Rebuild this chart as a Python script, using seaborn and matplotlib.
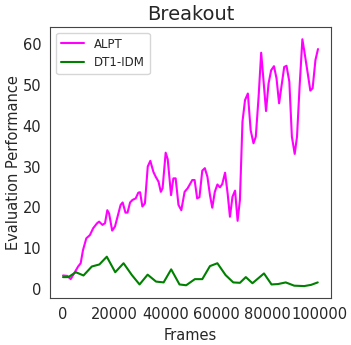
import numpy as np
import pandas as pd
import matplotlib
matplotlib.use("Agg")
import matplotlib.pyplot as plt
import seaborn as sns

alpt_frames = [0, 1700, 3000, 4600, 5900, 6900, 7800, 9100, 10500, 11800, 13300, 14100,
               15400, 16400, 17300, 18000, 19200, 20300, 21300, 22500, 23300, 24400, 25200,
               26200, 27100, 28400, 29400, 30100, 31000, 32000, 33100, 34100, 35300, 36200,
               37300, 38200, 38900, 40100, 40900, 42200, 43100, 44000, 45100, 46200, 47500,
               48700, 50500, 51400, 52400, 53300, 54400, 55400, 56400, 57400, 58300, 59300,
               60300, 61300, 62200, 63300, 64300, 65200, 66200, 67200, 68200, 69100, 70100,
               71100, 72200, 73300, 74400, 75300, 76400, 77400, 78300, 79300, 80300, 81300,
               82400, 83400, 84400, 85500, 86400, 87300, 88400, 89400, 90500, 91400, 92400,
               93500, 94500, 95600, 96600, 97500, 98600, 99600]
alpt_values = [3.3, 3.2, 2.4, 4.1, 5.5, 6.3, 9.5, 12.4, 13.2, 14.9, 16.1, 16.5,
               15.7, 16.1, 19.3, 18.5, 14.3, 15.3, 17.7, 20.6, 21.2, 18.7, 18.7,
               21.2, 21.8, 22.2, 23.6, 23.7, 20.2, 21.0, 30.0, 31.4, 28.7, 27.5,
               26.3, 23.8, 24.7, 33.4, 31.8, 23.0, 27.1, 27.1, 20.6, 19.3, 23.8,
               24.7, 26.7, 26.7, 22.2, 22.5, 29.0, 29.6, 27.5, 23.0, 19.9, 23.8,
               25.6, 24.9, 25.7, 28.5, 23.4, 17.7, 22.6, 24.1, 16.7, 21.8, 41.0,
               46.3, 47.9, 38.9, 35.7, 37.3, 47.1, 57.9, 51.2, 43.6, 50.4, 53.6,
               54.6, 51.6, 45.5, 50.4, 54.4, 54.7, 50.8, 37.3, 33.1, 37.3, 49.5,
               61.2, 57.3, 52.8, 48.6, 49.2, 56.1, 58.8]

dt_frames = [0, 2100, 5000, 8000, 11250, 14200, 17100, 20400, 23650, 26900, 29900,
             33050, 36350, 39300, 42250, 45500, 48100, 51500, 54400, 57400, 60300,
             63500, 66500, 69100, 71400, 74000, 78500, 81450, 84000, 87000, 90300,
             94200, 96900, 99500]
dt_values = [2.9, 2.9, 4.1, 3.3, 5.5, 6.0, 7.9, 4.1, 6.3, 3.4, 1.1,
             3.5, 1.8, 1.6, 4.8, 1.1, 0.9, 2.4, 2.4, 5.6, 6.3,
             3.4, 1.6, 1.5, 2.9, 1.4, 3.8, 1.1, 1.2, 1.6, 0.8,
             0.7, 1.0, 1.6]

labels = ["ALPT", "DT1-IDM"]
colors = ["#FF00FF", "green"]

df = pd.concat([
    pd.DataFrame({"Frames": alpt_frames, "Evaluation Performance": alpt_values, "method": labels[0]}),
    pd.DataFrame({"Frames": dt_frames, "Evaluation Performance": dt_values, "method": labels[1]}),
])

sns.set_style("white")
plt.rcParams['font.family'] = ['DejaVu Sans']

fig = plt.figure(figsize=(3.51, 3.45), dpi=100)
ax = fig.add_axes([0.1432, 0.135, 0.7991, 0.787])
sns.lineplot(data=df, x="Frames", y="Evaluation Performance", hue="method",
             palette=dict(zip(labels, colors)), linewidth=1.5, ax=ax)
ax.set_title("Breakout", fontsize=14, pad=5)
ax.set_xlabel("Frames", fontsize=10.5)
ax.set_ylabel("Evaluation Performance", fontsize=10.5, labelpad=1)
ax.tick_params(labelsize=10.5, colors="#262626", pad=3)
ax.set_xticks([0, 20000, 40000, 60000, 80000, 100000])
ax.set_yticks([0, 10, 20, 30, 40, 50, 60])
ax.legend(loc="upper left", fontsize=8.5, title=None)
for s in ax.spines.values():
    s.set_color("#444444")
fig.savefig("out.png", dpi=100)
